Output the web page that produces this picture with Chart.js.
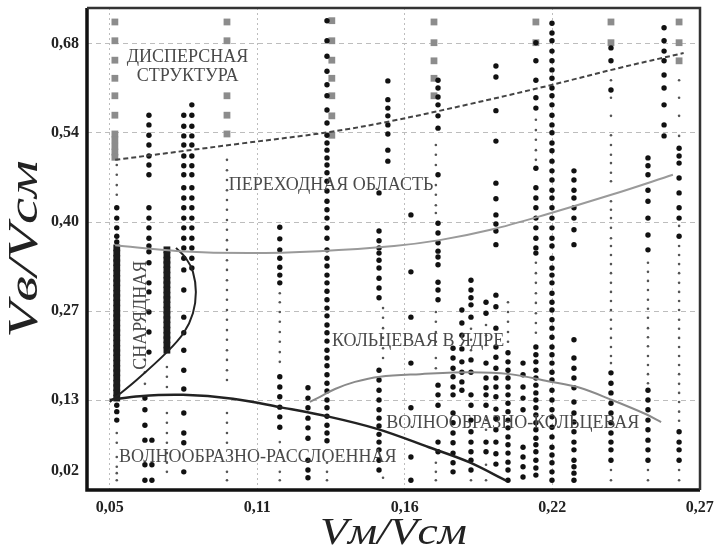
<!DOCTYPE html>
<html>
<head>
<meta charset="utf-8">
<script src="https://cdn.jsdelivr.net/npm/chart.js@4.4.0/dist/chart.umd.min.js"></script>
<style>
  html, body { margin: 0; padding: 0; background: #fff; }
  #wrap { width: 714px; height: 552px; }
</style>
</head>
<body>
<div id="wrap"><canvas id="flowMap" width="714" height="552"></canvas></div>
<script>
// --- оси ---
const xTicks = [0.05, 0.105, 0.16, 0.215, 0.27];
const xTickLabels = ["0,05", "0,11", "0,16", "0,22", "0,27"];
const yTicks = [0.02, 0.13, 0.2675, 0.405, 0.5425, 0.68];
const yTickLabels = ["0,02", "0,13", "0,27", "0,40", "0,54", "0,68"];
const xTitle = "Vм/Vсм";
const yTitle = "Vв/Vсм";

// --- точки: [x, [y...]] по столбцам ---
// дисперсная структура (серые квадраты)
const dispersedCols = [
  [0.0519, [0.714, 0.685, 0.655, 0.627, 0.600, 0.570, 0.541, 0.532, 0.522, 0.513, 0.505]],
  [0.0937, [0.714, 0.685, 0.600, 0.570, 0.541]],
  [0.1328, [0.716, 0.685, 0.655, 0.627, 0.600, 0.569, 0.539]],
  [0.1709, [0.714, 0.682, 0.654, 0.627, 0.600]],
  [0.2089, [0.714, 0.682]],
  [0.2369, [0.714, 0.682]],
  [0.2623, [0.714, 0.682, 0.654]],
];

// снарядная (черные квадраты)
const slugCols = [
  [0.0526, [0.365, 0.357, 0.349, 0.342, 0.334, 0.326, 0.318, 0.311, 0.303, 0.295, 0.288, 0.280, 0.272, 0.264, 0.257, 0.249,
            0.241, 0.234, 0.226, 0.218, 0.210, 0.203, 0.195, 0.187, 0.179, 0.172, 0.164, 0.156, 0.149, 0.141, 0.133]],
  [0.0713, [0.362, 0.354, 0.346, 0.339, 0.331, 0.323, 0.315, 0.308, 0.300, 0.292, 0.285, 0.277, 0.269, 0.261, 0.254, 0.246,
            0.238, 0.230, 0.223, 0.215, 0.207]],
];

// крупные точки
const bigCols = [
  [0.0526, [0.427, 0.411, 0.396, 0.383, 0.374, 0.122, 0.112, 0.099]],
  [0.0646, [0.570, 0.555, 0.539, 0.524, 0.507, 0.493, 0.478, 0.427, 0.411, 0.396, 0.380, 0.368, 0.359, 0.342, 0.311, 0.297,
            0.266, 0.235, 0.204]],
  [0.0631, [0.133, 0.115, 0.091, 0.068, 0.030, 0.006]],
  [0.0657, [0.068, 0.030, 0.006]],
  [0.0776, [0.570, 0.553, 0.538, 0.524, 0.507, 0.492, 0.478, 0.458, 0.442, 0.427, 0.411, 0.396, 0.380, 0.365, 0.349, 0.331,
            0.300, 0.258, 0.234, 0.207, 0.176, 0.147, 0.110, 0.079, 0.064, 0.019]],
  [0.0806, [0.586, 0.570, 0.553, 0.538, 0.524, 0.507, 0.492, 0.478, 0.458, 0.442, 0.427, 0.411, 0.396, 0.380, 0.365, 0.349,
            0.334]],
  [0.1134, [0.397, 0.379, 0.362, 0.349, 0.335, 0.323, 0.311, 0.166, 0.150, 0.135, 0.119, 0.104, 0.088]],
  [0.1239, [0.149, 0.133, 0.118, 0.102, 0.087, 0.071, 0.037, 0.022, 0.010]],
  [0.1310, [0.716, 0.685, 0.661, 0.638, 0.617, 0.600, 0.578, 0.558, 0.539, 0.527, 0.516, 0.504, 0.493, 0.481, 0.468, 0.453,
            0.437, 0.424, 0.411, 0.396, 0.380, 0.362, 0.349, 0.337, 0.323, 0.311, 0.298, 0.285, 0.272, 0.260, 0.246, 0.234,
            0.221, 0.207, 0.195, 0.183, 0.169, 0.156, 0.144, 0.130, 0.118, 0.105, 0.091, 0.079, 0.067]],
  [0.1537, [0.623, 0.594, 0.581, 0.569, 0.555, 0.541, 0.516, 0.499]],
  [0.1504, [0.450, 0.391, 0.376, 0.365, 0.357, 0.346, 0.334, 0.318, 0.303, 0.288, 0.176, 0.161, 0.145, 0.130, 0.115, 0.102,
            0.090, 0.077, 0.065, 0.053, 0.037, 0.022]],
  [0.1623, [0.416, 0.328, 0.258, 0.187, 0.118, 0.042, 0.006]],
  [0.1724, [0.624, 0.612, 0.598, 0.586, 0.569, 0.550, 0.478, 0.403, 0.388, 0.373, 0.360, 0.351, 0.339, 0.312, 0.300, 0.285,
            0.153, 0.138, 0.122, 0.065, 0.050]],
  [0.1780, [0.210, 0.195, 0.179, 0.166, 0.150, 0.138, 0.110, 0.095, 0.079, 0.064, 0.048, 0.033, 0.019]],
  [0.1813, [0.269, 0.249, 0.230, 0.209, 0.189, 0.173, 0.158, 0.145]],
  [0.1847, [0.315, 0.300, 0.288, 0.277, 0.258, 0.192, 0.173, 0.138, 0.122, 0.099, 0.081, 0.065, 0.050, 0.037, 0.022]],
  [0.1903, [0.281, 0.264, 0.187, 0.164, 0.149, 0.138, 0.122, 0.065, 0.050]],
  [0.1940, [0.646, 0.629, 0.577, 0.530, 0.465, 0.441, 0.416, 0.402, 0.391, 0.370, 0.292, 0.274, 0.241, 0.212, 0.196, 0.179,
            0.164, 0.150, 0.135, 0.116, 0.101, 0.084, 0.065, 0.047, 0.031]],
  [0.1985, [0.203, 0.189, 0.176, 0.164, 0.150, 0.138, 0.125, 0.112, 0.099, 0.087, 0.073, 0.061, 0.048, 0.034, 0.022, 0.006]],
  [0.2041, [0.187, 0.169, 0.150, 0.133, 0.115, 0.057, 0.042, 0.027, 0.011]],
  [0.2089, [0.682, 0.654, 0.624, 0.597, 0.581, 0.488, 0.458, 0.442, 0.427, 0.411, 0.396, 0.380, 0.365, 0.357, 0.212, 0.200,
            0.189, 0.176, 0.164, 0.153, 0.141, 0.130, 0.118, 0.107, 0.095, 0.084, 0.071, 0.061, 0.050, 0.037, 0.025, 0.014]],
  [0.2149, [0.712, 0.697, 0.685, 0.669, 0.654, 0.640, 0.627, 0.612, 0.600, 0.586, 0.570, 0.555, 0.543, 0.527, 0.515, 0.499,
            0.484, 0.470, 0.454, 0.442, 0.427, 0.411, 0.396, 0.380, 0.368, 0.349, 0.334, 0.323, 0.311, 0.295, 0.281, 0.269,
            0.254, 0.241, 0.227, 0.212, 0.200, 0.187, 0.173, 0.161, 0.145, 0.130, 0.115, 0.104, 0.088, 0.073, 0.057, 0.045,
            0.033, 0.019, 0.006]],
  [0.2231, [0.484, 0.470, 0.454, 0.442, 0.427, 0.411, 0.393, 0.370, 0.223, 0.195, 0.179, 0.164, 0.149, 0.127, 0.110, 0.096,
            0.081, 0.065, 0.053, 0.037, 0.027, 0.017, 0.006]],
  [0.2369, [0.674, 0.654, 0.609, 0.172, 0.156, 0.141, 0.125, 0.110, 0.095, 0.079, 0.065, 0.053, 0.037]],
  [0.2507, [0.504, 0.492, 0.478, 0.454, 0.437, 0.411, 0.385, 0.362, 0.145, 0.130, 0.115, 0.099, 0.084, 0.068, 0.053, 0.037]],
  [0.2567, [0.705, 0.685, 0.669, 0.654, 0.632, 0.612, 0.586, 0.555, 0.538]],
  [0.2623, [0.519, 0.507, 0.496, 0.473, 0.450, 0.427, 0.411, 0.383, 0.081, 0.065, 0.053, 0.037]],
];

// мелкие точки
const smallCols = [
  [0.0526, [0.493, 0.478, 0.462, 0.447, 0.079, 0.064, 0.042, 0.027, 0.017, 0.006]],
  [0.0631, [0.192, 0.173, 0.155]],
  [0.0713, [0.181, 0.166, 0.150, 0.110, 0.095, 0.079, 0.064, 0.048, 0.033, 0.019]],
  [0.0937, [0.501, 0.485, 0.470, 0.454, 0.439, 0.424, 0.408, 0.393, 0.377, 0.362, 0.346, 0.331, 0.315, 0.300, 0.285, 0.269,
            0.254, 0.238, 0.223, 0.207, 0.192, 0.176, 0.161, 0.110, 0.095, 0.079, 0.064, 0.019, 0.006]],
  [0.1134, [0.295, 0.281, 0.266, 0.251, 0.235, 0.220, 0.204, 0.189, 0.065, 0.019, 0.006]],
  [0.1310, [0.033, 0.019, 0.006]],
  [0.1519, [0.272, 0.257, 0.241, 0.226, 0.210, 0.195, 0.010]],
  [0.1716, [0.524, 0.509, 0.493, 0.462, 0.447, 0.431, 0.419, 0.266, 0.251, 0.235, 0.220, 0.195, 0.179, 0.033, 0.019, 0.006]],
  [0.1847, [0.240, 0.223, 0.207, 0.006]],
  [0.1903, [0.246, 0.230, 0.215, 0.099, 0.084, 0.030, 0.006]],
  [0.1985, [0.281, 0.266, 0.251, 0.235, 0.220]],
  [0.2089, [0.563, 0.547, 0.532, 0.516, 0.501, 0.342, 0.326, 0.311, 0.295, 0.280, 0.264, 0.249, 0.234]],
  [0.2369, [0.624, 0.597, 0.569, 0.539, 0.524, 0.509, 0.496, 0.481, 0.468, 0.437, 0.424, 0.411, 0.396, 0.380, 0.368, 0.354,
            0.340, 0.326, 0.311, 0.297, 0.283, 0.269, 0.254, 0.240, 0.226, 0.212, 0.198, 0.187, 0.022, 0.006]],
  [0.2507, [0.342, 0.328, 0.314, 0.300, 0.285, 0.271, 0.257, 0.241, 0.227, 0.213, 0.198, 0.184, 0.170, 0.156, 0.022, 0.006]],
  [0.2623, [0.624, 0.597, 0.569, 0.538, 0.399, 0.368, 0.354, 0.340, 0.326, 0.311, 0.297, 0.283, 0.269, 0.254, 0.240, 0.226,
            0.212, 0.198, 0.184, 0.170, 0.155, 0.141, 0.127, 0.112, 0.098, 0.022, 0.006]],
];

// --- границы режимов ---
const dispersedX = [0.052, 0.0985, 0.132, 0.155, 0.184, 0.213, 0.240, 0.264];
const dispersedY = [0.501, 0.526, 0.544, 0.561, 0.587, 0.615, 0.643, 0.666];
const transitionX = [0.052, 0.076, 0.102, 0.128, 0.156, 0.173, 0.192, 0.213, 0.237, 0.260];
const transitionY = [0.369, 0.360, 0.357, 0.360, 0.368, 0.377, 0.393, 0.417, 0.447, 0.478];
const slugX = [0.050, 0.060, 0.0713, 0.0776, 0.081, 0.0821, 0.081, 0.0784, 0.0747];
const slugY = [0.127, 0.161, 0.204, 0.234, 0.264, 0.297, 0.328, 0.349, 0.365];
const stratX = [0.050, 0.0612, 0.0773, 0.0959, 0.1134, 0.132, 0.150, 0.169, 0.184, 0.198];
const stratY = [0.130, 0.136, 0.138, 0.132, 0.119, 0.104, 0.085, 0.057, 0.034, 0.005];
const ringX = [0.1246, 0.1284, 0.134, 0.1414, 0.1507, 0.1657, 0.1843, 0.1992, 0.2134, 0.2253, 0.2373, 0.250, 0.2556];
const ringY = [0.127, 0.135, 0.147, 0.158, 0.166, 0.170, 0.173, 0.170, 0.159, 0.149, 0.130, 0.108, 0.096];

// --- подписи областей ---
const regionText = ["ДИСПЕРСНАЯ", "СТРУКТУРА", "ПЕРЕХОДНАЯ ОБЛАСТЬ", "СНАРЯДНАЯ",
                    "КОЛЬЦЕВАЯ В ЯДРЕ", "ВОЛНООБРАЗНО-КОЛЬЦЕВАЯ", "ВОЛНООБРАЗНО-РАССЛОЕННАЯ"];
const regionX = [0.079, 0.079, 0.1325, 0.0616, 0.165, 0.2003, 0.1052];
const regionY = [0.660, 0.630, 0.462, 0.261, 0.221, 0.094, 0.042];
const regionRot = [0, 0, 0, -90, 0, 0, 0];

const SERIF = '"Liberation Serif", "DejaVu Serif", "Times New Roman", serif';

function colsToPoints(cols) {
  const pts = [];
  cols.forEach(([x, ys]) => ys.forEach((y) => pts.push({ x: x, y: y })));
  return pts;
}

function zipLine(xs, ys) {
  return xs.map((x, i) => ({ x: x, y: ys[i] }));
}

function lineSet(xs, ys, color, width, dash) {
  return {
    data: zipLine(xs, ys),
    showLine: true,
    borderColor: color,
    borderWidth: width,
    borderDash: dash || [],
    pointRadius: 0,
    tension: 0.35,
    order: 0,
  };
}

// подписи, названия осей и рамка
const overlayPlugin = {
  id: "overlay",
  afterDatasetsDraw(chart) {
    const { ctx, scales } = chart;
    ctx.save();
    ctx.fillStyle = "#4a4a4a";
    ctx.font = "18px " + SERIF;
    ctx.textAlign = "center";
    ctx.textBaseline = "middle";
    regionText.forEach((t, i) => {
      const px = scales.x.getPixelForValue(regionX[i]);
      const py = scales.y.getPixelForValue(regionY[i]);
      ctx.save();
      ctx.translate(px, py);
      ctx.rotate((regionRot[i] * Math.PI) / 180);
      ctx.fillText(t, 0, 0);
      ctx.restore();
    });
    ctx.restore();
  },
  afterDraw(chart) {
    const { ctx, chartArea: a } = chart;
    ctx.save();
    ctx.strokeStyle = "#111";
    ctx.lineWidth = 3.5;
    ctx.beginPath();
    ctx.moveTo(a.left, a.top);
    ctx.lineTo(a.left, a.bottom);
    ctx.lineTo(a.right, a.bottom);
    ctx.stroke();
    ctx.strokeStyle = "#333";
    ctx.lineWidth = 2.5;
    ctx.beginPath();
    ctx.moveTo(a.left, a.top);
    ctx.lineTo(a.right, a.top);
    ctx.lineTo(a.right, a.bottom);
    ctx.stroke();

    // названия осей (шрифт слегка растянут, как в оригинале)
    ctx.fillStyle = "#222";
    ctx.textAlign = "center";
    ctx.textBaseline = "middle";
    ctx.font = "italic 38px " + SERIF;
    ctx.save();
    ctx.translate((a.left + a.right) / 2, 534);
    ctx.scale(1.2, 1);
    ctx.fillText(xTitle, 0, 0);
    ctx.restore();
    ctx.font = "italic 42px " + SERIF;
    ctx.save();
    ctx.translate(26, (a.top + a.bottom) / 2);
    ctx.rotate(-Math.PI / 2);
    ctx.scale(1.4, 1);
    ctx.fillText(yTitle, 0, 0);
    ctx.restore();
    ctx.restore();
  },
};

new Chart(document.getElementById("flowMap").getContext("2d"), {
  type: "scatter",
  data: {
    datasets: [
      lineSet(dispersedX, dispersedY, "#444", 2, [5, 3]),
      lineSet(transitionX, transitionY, "#9a9a9a", 2),
      lineSet(slugX, slugY, "#222", 2),
      lineSet(stratX, stratY, "#222", 2.5),
      lineSet(ringX, ringY, "#8a8a8a", 2),
      {
        data: colsToPoints(bigCols),
        pointStyle: "circle",
        pointRadius: 2.7,
        backgroundColor: "#111",
        borderWidth: 0,
        order: 1,
      },
      {
        data: colsToPoints(smallCols),
        pointStyle: "circle",
        pointRadius: 1.3,
        backgroundColor: "#555",
        borderWidth: 0,
        order: 2,
      },
      {
        data: colsToPoints(slugCols),
        pointStyle: "rect",
        pointRadius: 4.8,
        backgroundColor: "#1c1c1c",
        borderWidth: 0,
        order: 3,
      },
      {
        data: colsToPoints(dispersedCols),
        pointStyle: "rect",
        pointRadius: 4.8,
        backgroundColor: "#8c8c8c",
        borderWidth: 0,
        order: 3,
      },
    ],
  },
  options: {
    responsive: false,
    animation: false,
    devicePixelRatio: 1,
    layout: { padding: { left: 0, right: 14, top: 8, bottom: 0 } },
    plugins: { legend: { display: false }, tooltip: { enabled: false } },
    scales: {
      x: {
        type: "linear",
        min: 0.0415,
        max: 0.2701,
        afterBuildTicks: (s) => { s.ticks = xTicks.map((v) => ({ value: v })); },
        afterFit: (s) => { s.height = 62; s.paddingLeft = 0; s.paddingRight = 0; },
        ticks: {
          autoSkip: false,
          maxRotation: 0,
          padding: 8,
          color: "#222",
          font: { family: SERIF, size: 16, weight: "bold" },
          callback: (v, i) => xTickLabels[i],
        },
        grid: { color: "#bdbdbd", lineWidth: 1, drawTicks: false },
        border: { display: false, dash: [2, 3] },
      },
      y: {
        type: "linear",
        min: -0.009,
        max: 0.7356,
        afterBuildTicks: (s) => { s.ticks = yTicks.map((v) => ({ value: v })); },
        afterFit: (s) => { s.width = 87; s.paddingTop = 0; s.paddingBottom = 0; },
        ticks: {
          autoSkip: false,
          padding: 8,
          color: "#222",
          font: { family: SERIF, size: 16, weight: "bold" },
          callback: (v, i) => yTickLabels[i],
        },
        grid: {
          color: (c) => (c.index === 0 ? "rgba(0,0,0,0)" : "#bdbdbd"),
          lineWidth: 1,
          drawTicks: false,
        },
        border: { display: false, dash: [5, 4] },
      },
    },
  },
  plugins: [overlayPlugin],
});
</script>
</body>
</html>
